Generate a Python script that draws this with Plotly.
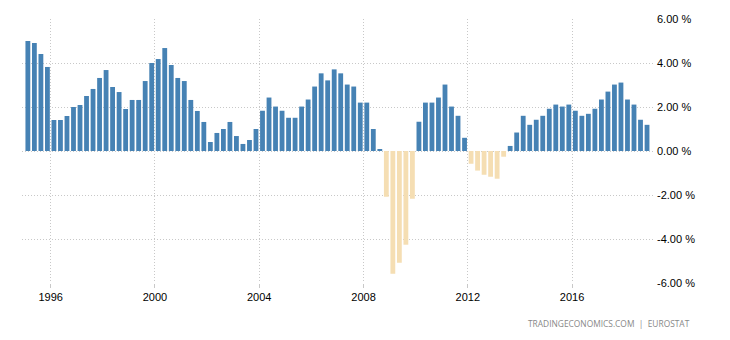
import plotly.graph_objects as go

# Quarterly growth rate (%), 1995 Q1 - 2018 Q4
start_year = 1995
growth = [
    5.00, 4.91, 4.41, 3.82,   # 1995
    1.41, 1.41, 1.59, 2.00,   # 1996
    2.09, 2.50, 2.82, 3.32,   # 1997
    3.68, 2.91, 2.68, 1.91,   # 1998
    2.32, 2.32, 3.18, 4.00,   # 1999
    4.18, 4.68, 3.91, 3.32,   # 2000
    3.18, 2.32, 1.82, 1.32,   # 2001
    0.41, 0.82, 1.00, 1.32,   # 2002
    0.68, 0.32, 0.50, 1.00,   # 2003
    1.83, 2.43, 2.02, 1.83,   # 2004
    1.51, 1.51, 2.02, 2.34,   # 2005
    2.93, 3.53, 3.21, 3.71,   # 2006
    3.53, 3.02, 2.93, 2.20,   # 2007
    2.20, 1.00, 0.09, -2.08,  # 2008
    -5.58, -5.08, -4.26, -2.17,  # 2009
    1.33, 2.20, 2.20, 2.43,   # 2010
    3.02, 2.02, 1.60, 0.60,   # 2011
    -0.58, -0.89, -1.08, -1.17,  # 2012
    -1.26, -0.26, 0.23, 0.84,  # 2013
    1.60, 1.19, 1.42, 1.60,   # 2014
    1.92, 2.11, 2.02, 2.11,   # 2015
    1.83, 1.60, 1.69, 1.92,   # 2016
    2.34, 2.70, 3.02, 3.11,   # 2017
    2.34, 2.11, 1.42, 1.19,   # 2018
]
quarters = [f"{start_year + i // 4}Q{i % 4 + 1}" for i in range(len(growth))]
year_ticks = [1996, 2000, 2004, 2008, 2012, 2016]
y_ticks = [6, 4, 2, 0, -2, -4, -6]

POS_COLOR = "#4682b4"
NEG_COLOR = "#f5deb3"
GRID_COLOR = "#c8c8c8"
GRID_DASH = "1px,2px"

# centre each bar in the middle of its quarter on a decimal-year axis
x_pos = [int(q[:4]) + (int(q[-1]) - 0.5) / 4 for q in quarters]
colors = [POS_COLOR if v >= 0 else NEG_COLOR for v in growth]

fig = go.Figure(
    go.Bar(
        x=x_pos,
        y=growth,
        marker=dict(color=colors, line=dict(width=0)),
        customdata=quarters,
        hovertemplate="%{customdata}: %{y:.2f} %<extra></extra>",
    )
)

label_font = dict(family="Liberation Sans, Arial, sans-serif", size=11, color="#000000")

fig.update_layout(
    width=730,
    height=340,
    margin=dict(l=22, r=77, t=19, b=57),
    paper_bgcolor="white",
    plot_bgcolor="white",
    bargap=0.26,
    showlegend=False,
    xaxis=dict(
        range=[1994.9, 2019.104],
        tickvals=year_ticks,
        ticktext=[str(y) for y in year_ticks],
        showgrid=True,
        gridcolor=GRID_COLOR,
        griddash=GRID_DASH,
        gridwidth=1,
        zeroline=False,
        showline=False,
        ticks="outside",
        ticklen=4,
        tickcolor=GRID_COLOR,
        tickfont=label_font,
    ),
    yaxis=dict(
        side="right",
        range=[-6, 6],
        tickvals=y_ticks,
        ticktext=[f"{v:.2f} %" for v in y_ticks],
        showgrid=True,
        gridcolor=GRID_COLOR,
        griddash=GRID_DASH,
        gridwidth=1,
        zeroline=False,
        showline=False,
        ticks="",
        tickfont=label_font,
        ticklabelstandoff=3,
    ),
    annotations=[
        dict(
            text="TRADINGECONOMICS.COM  |  EUROSTAT",
            xref="paper",
            yref="paper",
            x=1.062,
            y=-0.155,
            xanchor="right",
            yanchor="middle",
            showarrow=False,
            font=dict(family="Open Sans, sans-serif", size=8.4, color="#888888"),
        )
    ],
)

fig.write_html("out.html")
